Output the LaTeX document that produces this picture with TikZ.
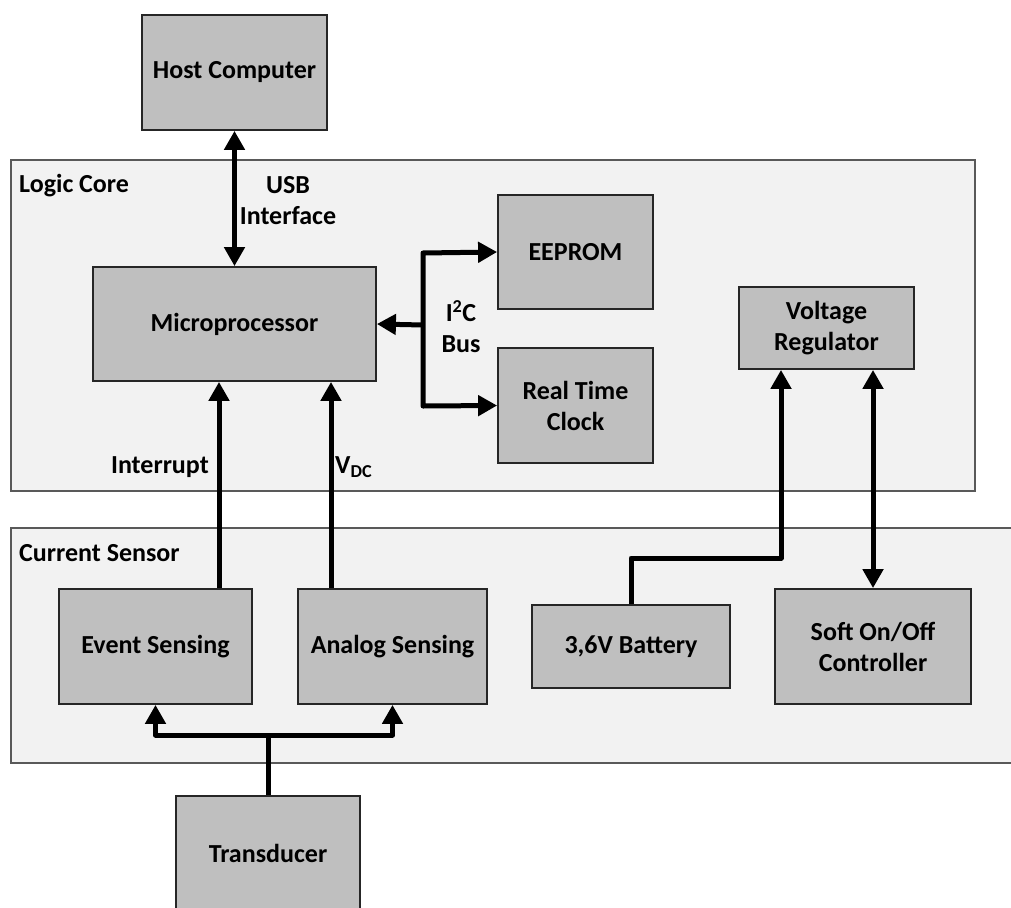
\documentclass[tikz,border=0pt]{standalone}
\usepackage{fontspec}
\setmainfont{Carlito}
\usetikzlibrary{arrows.meta}
\definecolor{boxfill}{HTML}{BFBFBF}
\definecolor{boxline}{HTML}{262626}
\definecolor{panelfill}{HTML}{F2F2F2}
\definecolor{panelline}{HTML}{595959}
\tikzset{
  blk/.style={draw=boxline, fill=boxfill, line width=1.8pt, align=center,
    inner sep=0pt, font=\fontsize{26}{31}\selectfont\bfseries},
  panel/.style={draw=panelline, fill=panelfill, line width=1.2pt},
  lbl/.style={font=\fontsize{26}{31}\selectfont\bfseries, align=center, inner sep=0pt},
  conn/.style={line width=5pt, line join=round},
  arr/.style={conn, -{Triangle[length=19pt,width=20pt]}},
  dbl/.style={conn, {Triangle[length=19pt,width=20pt]}-{Triangle[length=19pt,width=20pt]}},
}
\begin{document}
\begin{tikzpicture}[x=1pt,y=-1pt]
\clip (0,0) rectangle (1011,907);
\fill[white] (0,0) rectangle (1011,907);
% panels
\draw[panel] (11,160) rectangle (975,491);
\draw[panel] (11,528) rectangle (1030,763);
\node[lbl, anchor=west] (lc) at (19,186) {Logic Core};
\node[lbl, anchor=west] (cs) at (19,553) {Current Sensor};
% blocks
\node[blk, minimum width=185pt, minimum height=115pt] (host) at (234.5,72.5) {Host Computer};
\node[blk, minimum width=283pt, minimum height=114pt] (micro) at (234.5,324) {Microprocessor};
\node[blk, minimum width=155pt, minimum height=114pt] (eeprom) at (575.5,252) {EEPROM};
\node[blk, minimum width=155pt, minimum height=115pt] (rtc) at (575.5,405.5) {Real Time\\Clock};
\node[blk, minimum width=175pt, minimum height=82pt] (vr) at (826.5,328) {Voltage\\Regulator};
\node[blk, minimum width=193pt, minimum height=115pt] (event) at (155.5,646.5) {Event Sensing};
\node[blk, minimum width=189pt, minimum height=115pt] (analog) at (392.5,646.5) {Analog Sensing};
\node[blk, minimum width=198pt, minimum height=83pt] (batt) at (631,646.5) {3,6V Battery};
\node[blk, minimum width=196pt, minimum height=115pt] (soft) at (873,646.5) {Soft On/Off\\Controller};
\node[blk, minimum width=184pt, minimum height=115pt] (trans) at (268,853.5) {Transducer};
% labels
\node[lbl] (usb) at (288,201) {USB\\Interface};
\node[lbl] (i2c) at (461,327) {I\textsuperscript{2}C\\Bus};
\node[lbl, anchor=east] (intr) at (209,467) {Interrupt};
\node[lbl, anchor=west] (vdc) at (335,467) {V\textsubscript{DC}};
% coordinates
\coordinate (bt) at (423,253);
\coordinate (bb) at (423,406);
\coordinate (bm) at (423,325);
\coordinate (ix) at (219,0);
\coordinate (ax) at (331,0);
\coordinate (bj) at (781,558);
\coordinate (tj) at (268,735);
% connectors
\draw[dbl] (host.south) -- (micro.north);
\draw[dbl] (eeprom.west) -- (bt) -- (bb) -- (rtc.west);
\draw[arr] (bm) -- (micro.east);
\draw[arr] (event.north -| ix) -- (micro.south -| ix);
\draw[arr] (analog.north -| ax) -- (micro.south -| ax);
\draw[arr] (batt.north) |- (bj) -- (vr.south -| bj);
\draw[dbl] (soft.north) -- (soft.north |- vr.south);
\draw[dbl] (event.south) -- (event.south |- tj) -- (analog.south |- tj) -- (analog.south);
\draw[conn] (trans.north) -- (tj);
\end{tikzpicture}
\end{document}
